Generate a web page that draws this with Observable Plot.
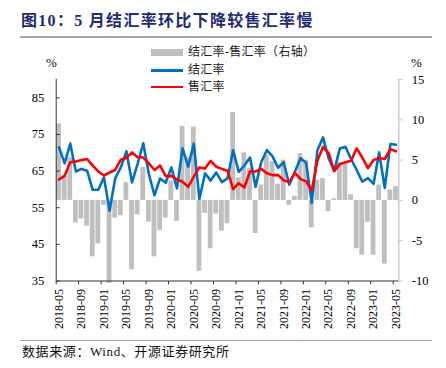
<!DOCTYPE html>
<html><head><meta charset="utf-8">
<script src="https://cdn.jsdelivr.net/npm/d3@7"></script>
<script src="https://cdn.jsdelivr.net/npm/@observablehq/plot@0.6"></script>
<style>
body{margin:0;background:#fff;}
#wrap{position:relative;width:446px;height:368px;overflow:hidden;font-family:"Liberation Serif","Noto Sans CJK SC",serif;}
#wrap svg{position:absolute;left:0;top:0;}
.abs{position:absolute;white-space:nowrap;line-height:1;}
.cjk{font-family:"Liberation Serif","Noto Sans CJK SC",serif;}
</style></head><body>
<div id="wrap">
  <div id="chart"></div>
  <div class="abs cjk" style="left:21px;top:13px;font-size:16px;font-weight:700;color:#1e2c70;letter-spacing:1.3px;">图10：5 月结汇率环比下降较售汇率慢</div>
  <div class="abs" style="left:20px;top:36px;width:412px;height:2px;background:#a6a6a6;"></div>
  <div class="abs" style="left:151px;top:49px;width:32px;height:7px;background:#bfbfbf;"></div>
  <div class="abs" style="left:151px;top:69px;width:32px;height:2.6px;background:#0070c0;"></div>
  <div class="abs" style="left:151px;top:85.5px;width:32px;height:2.6px;background:#ff0000;"></div>
  <div class="abs cjk" style="left:188px;top:46px;font-size:12px;color:#222;letter-spacing:0.3px;">结汇率-售汇率（右轴）</div>
  <div class="abs cjk" style="left:188px;top:63.5px;font-size:12px;color:#222;letter-spacing:0.3px;">结汇率</div>
  <div class="abs cjk" style="left:188px;top:80.5px;font-size:12px;color:#222;letter-spacing:0.3px;">售汇率</div>
  <div class="abs" style="left:46px;top:56px;font-size:13px;color:#000;">%</div>
  <div class="abs" style="left:411px;top:56px;font-size:13px;color:#000;">%</div>
  <div class="abs" style="left:20px;top:339.5px;width:412px;height:1.5px;background:#a6a6a6;"></div>
  <div class="abs cjk" style="left:22px;top:345px;font-size:13px;color:#111;letter-spacing:0.6px;">数据来源：Wind、开源证券研究所</div>
</div>
<script>
const months = ["2018-05","2018-06","2018-07","2018-08","2018-09","2018-10","2018-11","2018-12",
"2019-01","2019-02","2019-03","2019-04","2019-05","2019-06","2019-07","2019-08","2019-09","2019-10","2019-11","2019-12",
"2020-01","2020-02","2020-03","2020-04","2020-05","2020-06","2020-07","2020-08","2020-09","2020-10","2020-11","2020-12",
"2021-01","2021-02","2021-03","2021-04","2021-05","2021-06","2021-07","2021-08","2021-09","2021-10","2021-11","2021-12",
"2022-01","2022-02","2022-03","2022-04","2022-05","2022-06","2022-07","2022-08","2022-09","2022-10","2022-11","2022-12",
"2023-01","2023-02","2023-03","2023-04","2023-05"];
// 结汇率 (%), left axis
const jieHui = [71.5,67.1,72.5,64.9,65.6,65.1,59.9,59.9,
63.3,54.2,63.0,66.0,70.4,61.9,67.0,72.6,64.2,58.4,63.0,61.8,
66.0,60.3,71.2,66.2,72.5,57.4,64.4,62.4,64.6,62.0,63.0,70.7,
64.8,66.5,68.7,60.7,67.4,70.7,69.1,65.9,67.4,61.3,64.8,68.5,
67.3,56.3,70.6,74.2,68.5,65.1,71.2,71.6,68.3,65.3,62.1,63.1,
61.5,70.1,60.4,72.4,72.2];
// 售汇率 (%), left axis
const shouHui = [62.7,63.7,67.4,67.6,68.0,68.3,66.5,64.9,
63.8,64.6,65.3,68.1,68.6,70.1,68.8,68.7,67.1,65.3,66.5,63.6,
63.7,62.7,62.1,60.7,63.5,66.0,65.7,67.8,66.2,65.6,65.1,60.1,
61.7,60.5,64.9,64.9,65.6,64.4,63.9,63.9,62.5,62.0,64.5,62.8,
62.2,59.7,67.8,71.6,69.9,65.0,66.9,67.4,67.8,71.2,68.7,65.8,
68.0,68.6,68.3,71.0,70.4];
// 结汇率-售汇率 (pct pts), right axis
const spread = [9.5,3.1,5.3,-2.8,-2.3,-3.2,-7.0,-5.4,
-0.6,-10.3,-2.2,-1.9,2.2,-8.6,-1.8,4.1,-2.7,-7.0,-3.7,-2.2,
2.4,-2.6,9.2,5.3,9.1,-8.8,-1.6,-6.0,-1.7,-3.8,-2.9,10.9,
2.8,5.9,4.0,-4.1,1.9,5.6,4.8,2.0,5.0,-0.6,0.5,5.8,
5.0,-3.4,2.5,2.7,-1.4,0.2,4.7,4.6,0.7,-6.0,-6.8,-2.7,
-6.8,1.9,-7.9,1.3,1.7];
const leftTicks = [35,45,55,65,75,85];
const rightTicks = [-10,-5,0,5,10,15];
const xTickLabels = ["2018-05","2018-09","2019-01","2019-05","2019-09","2020-01","2020-05","2020-09",
"2021-01","2021-05","2021-09","2022-01","2022-05","2022-09","2023-01","2023-05"];

const LEFT = [35, 90], RIGHT = [-10, 15];
const toLeft = d => LEFT[0] + (d - RIGHT[0]) * (LEFT[1]-LEFT[0]) / (RIGHT[1]-RIGHT[0]);
const fromLeft = v => RIGHT[0] + (v - LEFT[0]) * (RIGHT[1]-RIGHT[0]) / (LEFT[1]-LEFT[0]);
const n = months.length;
const rows = months.map((m, i) => ({i, m, a: jieHui[i], b: shouHui[i], d: spread[i]}));
const labelIdx = xTickLabels.map(l => months.indexOf(l));

const chart = Plot.plot({
  width: 446, height: 368,
  marginTop: 79, marginBottom: 87.5, marginLeft: 55.7, marginRight: 47.7,
  x: {domain: [0, n]},
  y: {domain: LEFT},
  style: {fontFamily: "Liberation Serif, serif", fontSize: "12.5px", color: "#000", background: "transparent"},
  marks: [
    Plot.rectY(rows, {x1: d => d.i + 0.07, x2: d => d.i + 0.93, y1: () => toLeft(0), y2: d => toLeft(d.d), fill: "#bfbfbf"}),
    Plot.line(rows, {x: d => d.i + 0.5, y: "a", stroke: "#0070c0", strokeWidth: 2.6, strokeLinejoin: "round"}),
    Plot.line(rows, {x: d => d.i + 0.5, y: "b", stroke: "#ff0000", strokeWidth: 2.6, strokeLinejoin: "round"}),
    // left axis
    Plot.ruleX([0], {y1: LEFT[0], y2: LEFT[1], stroke: "#333", strokeWidth: 1}),
    Plot.link(leftTicks, {x1: 0, x2: 0.62, y1: d => d, y2: d => d, stroke: "#333"}),
    Plot.axisY(leftTicks, {anchor: "left", tickSize: 0, tickPadding: 12, fontSize: 12.5, fill: "#000"}),
    // right axis
    Plot.ruleX([n], {y1: LEFT[0], y2: LEFT[1], stroke: "#c0c0c0", strokeWidth: 1.2}),
    Plot.link(rightTicks, {x1: n, x2: n + 0.62, y1: d => toLeft(d), y2: d => toLeft(d), stroke: "#c0c0c0"}),
    Plot.axisY(rightTicks.map(toLeft), {anchor: "right", tickSize: 0, tickPadding: 13, fontSize: 12.5, fill: "#000",
      tickFormat: v => String(Math.round(fromLeft(v)))}),
    // x axis
    Plot.ruleY([LEFT[0]], {x1: 0, x2: n, stroke: "#333", strokeWidth: 1}),
    Plot.link(labelIdx, {x1: d => d, x2: d => d, y1: LEFT[0], y2: LEFT[0] - 0.9, stroke: "#333"}),
    Plot.axisX(labelIdx.map(i => i + 0.5), {anchor: "bottom", tickSize: 0, tickPadding: 8, tickRotate: -90,
      fontSize: 12, fill: "#000", tickFormat: v => months[Math.round(v - 0.5)]})
  ]
});
document.getElementById("chart").appendChild(chart);
</script>
</body></html>
